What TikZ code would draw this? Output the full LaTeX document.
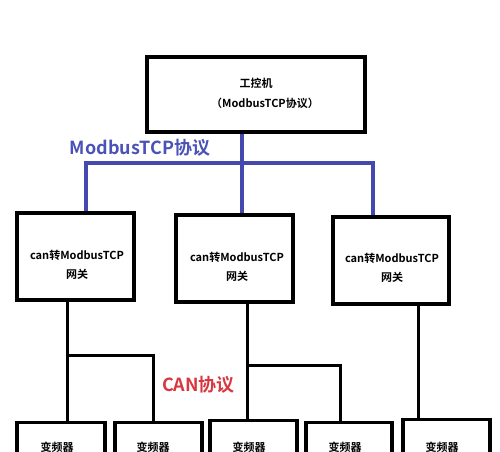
\documentclass[tikz,border=0pt]{standalone}
\usepackage{fontspec}
\setmainfont{Noto Sans CJK SC}[BoldFont={Noto Sans CJK SC Bold}]
\definecolor{netblue}{HTML}{4349AE}
\definecolor{labblue}{HTML}{4A52B8}
\definecolor{labred}{HTML}{D9363F}
\tikzset{
  boxx/.style={draw=black, line width=3.3pt, rectangle, inner sep=0pt},
  txt/.style={font=\bfseries\fontsize{11}{19.5}\selectfont, align=center, inner sep=0pt},
  bigtxt/.style={font=\bfseries\fontsize{18}{20}\selectfont, inner sep=0pt},
  tcpline/.style={draw=netblue, line width=3.1pt},
  canline/.style={draw=black, line width=3pt},
}
\begin{document}
\begin{tikzpicture}[x=1pt,y=-1pt]
\useasboundingbox (0,0) rectangle (500,451);
\clip (0,0) rectangle (500,451);
\fill[white] (0,0) rectangle (500,451);
% top box
\node[boxx, minimum width=218pt, minimum height=75pt] (top) at (256,94.5) {};
\node[txt] (toptxt) at (256,93.5) {工控机\\\hspace*{18pt}（ModbusTCP协议）};
% gateways
\node[boxx, minimum width=117pt, minimum height=87pt] (g1) at (75.5,256.5) {};
\node[boxx, minimum width=117pt, minimum height=87pt] (g2) at (234.5,258.5) {};
\node[boxx, minimum width=116pt, minimum height=87pt] (g3) at (391,260.5) {};
\node[txt] (g1t) at (77,265) {can转ModbusTCP\\网关};
\node[txt] (g2t) at (237,267) {can转ModbusTCP\\网关};
\node[txt] (g3t) at (392,268) {can转ModbusTCP\\网关};
% inverters
\node[boxx, minimum width=88pt, minimum height=70pt, anchor=north] (b1) at (61,421) {};
\node[boxx, minimum width=87pt, minimum height=70pt, anchor=north] (b2) at (158.5,421) {};
\node[boxx, minimum width=87pt, minimum height=70pt, anchor=north] (b3) at (253.5,419) {};
\node[boxx, minimum width=86pt, minimum height=70pt, anchor=north] (b4) at (349,421) {};
\node[boxx, minimum width=87pt, minimum height=70pt, anchor=north] (b5) at (446.5,418) {};
\node[txt] (b1t) at (57,447) {变频器};
\node[txt] (b2t) at (153,447) {变频器};
\node[txt] (b3t) at (249,447) {变频器};
\node[txt] (b4t) at (345,447) {变频器};
\node[txt] (b5t) at (442,447) {变频器};
% ModbusTCP network
\coordinate (busL) at (86,163);
\coordinate (busM) at (242,163);
\coordinate (busR) at (373,163);
\draw[tcpline] (top.south -| busM) -- (g2.north -| busM);
\draw[tcpline] (g1.north -| busL) -- (busL) -- ([xshift=2pt]busR);
\draw[tcpline] (busR) -- (g3.north -| busR);
\node[bigtxt, text=labblue] (modlab) at (140,148) {ModbusTCP协议};
% CAN networks
\coordinate (j1) at (67,355);
\coordinate (j1r) at (153,355);
\draw[canline] (g1.south -| j1) -- (b1.north -| j1);
\draw[canline] (j1) -- (j1r) -- (b2.north -| j1r);
\coordinate (j2) at (247,365);
\coordinate (j2r) at (340,365);
\draw[canline] (g2.south -| j2) -- (b3.north -| j2);
\draw[canline] (j2) -- (j2r) -- (b4.north -| j2r);
\coordinate (j3) at (418,380);
\draw[canline] (g3.south -| j3) -- (b5.north -| j3);
\node[bigtxt, text=labred] (canlab) at (198.5,385) {CAN协议};
\end{tikzpicture}
\end{document}
